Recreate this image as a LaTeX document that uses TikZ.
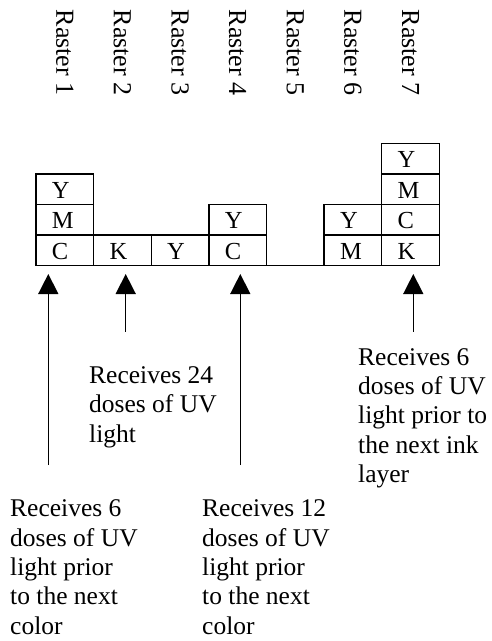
\documentclass[tikz,border=0pt]{standalone}
\usepackage{fontspec}
\setmainfont{Liberation Serif}
\usetikzlibrary{arrows.meta}
\begin{document}
\begin{tikzpicture}[x=1pt,y=1pt,
  cell/.style={draw, line width=1.4pt, outer sep=0pt, minimum height=30.6pt, text width=25.6pt, inner xsep=16pt, inner ysep=0pt, text height=17.6pt, text depth=0pt, align=left, font=\fontsize{24.5}{28}\selectfont, anchor=south west},
  raster/.style={rotate=-90, anchor=west, inner sep=0pt, font=\fontsize{26}{29.3}\selectfont},
  note/.style={anchor=north west, inner sep=0pt, align=left, font=\fontsize{25.5}{29.3}\selectfont},
  uv/.style={line width=1.5pt, -{Triangle[width=20pt,length=20pt]}},
  baseline/.style={line width=1.4pt}
]
\useasboundingbox (0,0) rectangle (491,-641);
% raster labels
\node[raster] (r1) at (64.8,-9.5) {Raster 1};
\node[raster] (r2) at (122.4,-9.5) {Raster 2};
\node[raster] (r3) at (180.0,-9.5) {Raster 3};
\node[raster] (r4) at (237.6,-9.5) {Raster 4};
\node[raster] (r5) at (295.2,-9.5) {Raster 5};
\node[raster] (r6) at (352.8,-9.5) {Raster 6};
\node[raster] (r7) at (410.4,-9.5) {Raster 7};
% cells
\node[cell] (a1) at (36.0,-265.7) {C};
\node[cell] (a2) at (36.0,-235.1) {M};
\node[cell] (a3) at (36.0,-204.5) {Y};
\node[cell] (b1) at (93.6,-265.7) {K};
\node[cell] (c1) at (151.2,-265.7) {Y};
\node[cell] (d1) at (208.8,-265.7) {C};
\node[cell] (d2) at (208.8,-235.1) {Y};
\node[cell] (f1) at (324.0,-265.7) {M};
\node[cell] (f2) at (324.0,-235.1) {Y};
\node[cell] (g1) at (381.6,-265.7) {K};
\node[cell] (g2) at (381.6,-235.1) {C};
\node[cell] (g3) at (381.6,-204.5) {M};
\node[cell] (g4) at (381.6,-173.9) {Y};
\draw[baseline] (d1.south east) -- (f1.south west);
% arrows
\coordinate (t1) at (48.3,-274);
\coordinate (t2) at (125.7,-274);
\coordinate (t3) at (240.3,-274);
\coordinate (t4) at (413.3,-274);
\coordinate (s1) at (48.3,-465);
\coordinate (s2) at (125.7,-331.5);
\coordinate (s3) at (240.3,-465);
\coordinate (s4) at (413.3,-331.5);
\draw[uv] (s1) -- (t1);
\draw[uv] (s2) -- (t2);
\draw[uv] (s3) -- (t3);
\draw[uv] (s4) -- (t4);
% notes
\node[note] (n2) at (89,-366.6) {Receives 24\\doses of UV\\light};
\node[note] (n4) at (358,-348.3) {Receives 6\\doses of UV\\light prior to\\the next ink\\layer};
\node[note] (n1) at (10,-499.9) {Receives 6\\doses of UV\\light prior\\to the next\\color};
\node[note] (n3) at (202,-499.9) {Receives 12\\doses of UV\\light prior\\to the next\\color};
\end{tikzpicture}
\end{document}
